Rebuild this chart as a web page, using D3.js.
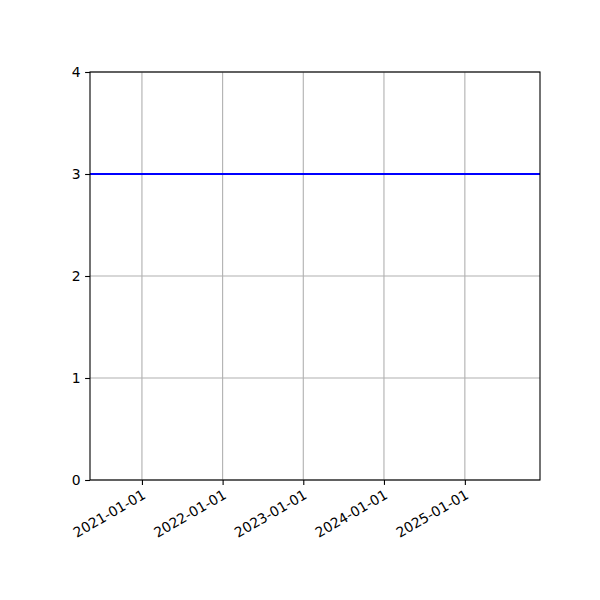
<!DOCTYPE html>
<html>
<head>
<meta charset="utf-8">
<script src="https://cdn.jsdelivr.net/npm/d3@7"></script>
<style>
  body { margin: 0; background: #fff; }
  svg { font-family: "DejaVu Sans", sans-serif; }
  .tick text { font-family: "DejaVu Sans", sans-serif; font-size: 13.9px; }
</style>
</head>
<body>
<div id="chart"></div>
<script>
// data
const xLimits = ["2020-05-11", "2025-12-07"];
const tickDates = ["2021-01-01", "2022-01-01", "2023-01-01", "2024-01-01", "2025-01-01"];
const yTicks = [0, 1, 2, 3, 4];
const levelValue = 3;

const width = 600, height = 600;
const margin = { top: 72, right: 60, bottom: 120, left: 90 };

const parseDate = d3.timeParse("%Y-%m-%d");

const svg = d3.select("#chart")
  .append("svg")
  .attr("width", width)
  .attr("height", height);

const x = d3.scaleTime()
  .domain(xLimits.map(parseDate))
  .range([margin.left, width - margin.right]);

const y = d3.scaleLinear()
  .domain([0, 4])
  .range([height - margin.bottom, margin.top]);

// grid
svg.append("g")
  .selectAll("line")
  .data(tickDates.map(parseDate))
  .enter()
  .append("line")
  .attr("x1", (d) => x(d))
  .attr("x2", (d) => x(d))
  .attr("y1", y(0))
  .attr("y2", y(4))
  .attr("stroke", "#b0b0b0")
  .attr("stroke-width", 1.1);

svg.append("g")
  .selectAll("line")
  .data(yTicks)
  .enter()
  .append("line")
  .attr("x1", x.range()[0])
  .attr("x2", x.range()[1])
  .attr("y1", (d) => y(d))
  .attr("y2", (d) => y(d))
  .attr("stroke", "#b0b0b0")
  .attr("stroke-width", 1.1);

// horizontal level line
svg.append("line")
  .attr("x1", x.range()[0])
  .attr("x2", x.range()[1])
  .attr("y1", y(levelValue))
  .attr("y2", y(levelValue))
  .attr("stroke", "#0000ff")
  .attr("stroke-width", 2);

// axes
const xAxis = d3.axisBottom(x)
  .tickValues(tickDates.map(parseDate))
  .tickFormat(d3.timeFormat("%Y-%m-%d"))
  .tickSize(4.9)
  .tickPadding(4);

const xAxisGroup = svg.append("g")
  .attr("transform", `translate(0,${y(0)})`)
  .attr("font-size", null)
  .attr("font-family", null)
  .call(xAxis);

xAxisGroup.select(".domain").remove();
xAxisGroup.selectAll(".tick line").attr("stroke", "#000").attr("stroke-width", 1.1);
xAxisGroup.selectAll(".tick text")
  .attr("fill", "#000")
  .attr("text-anchor", "end")
  .attr("dy", "0.75em")
  .attr("transform", "translate(-1,8.5) rotate(-30)")
  .attr("y", 0)
  .attr("x", 0);

const yAxis = d3.axisLeft(y)
  .tickValues(yTicks)
  .tickFormat(d3.format("d"))
  .tickSize(4.9)
  .tickPadding(4.5);

const yAxisGroup = svg.append("g")
  .attr("transform", `translate(${x.range()[0]},0)`)
  .call(yAxis);

yAxisGroup.select(".domain").remove();
yAxisGroup.selectAll(".tick line").attr("stroke", "#000").attr("stroke-width", 1.1);
yAxisGroup.selectAll(".tick text")
  .attr("fill", "#000");

// frame
svg.append("rect")
  .attr("x", x.range()[0])
  .attr("y", y(4))
  .attr("width", x.range()[1] - x.range()[0])
  .attr("height", y(0) - y(4))
  .attr("fill", "none")
  .attr("stroke", "#000")
  .attr("stroke-width", 1.1);
</script>
</body>
</html>
